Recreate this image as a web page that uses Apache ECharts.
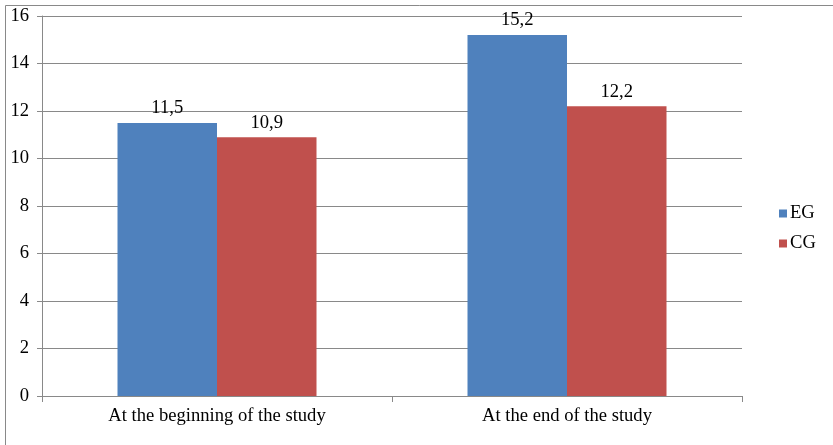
<!DOCTYPE html>
<html>
<head>
<meta charset="utf-8">
<script src="https://cdn.jsdelivr.net/npm/echarts@6/dist/echarts.min.js"></script>
<style>
  html, body { margin: 0; padding: 0; background: #fff; }
  #chart { width: 833px; height: 445px; }
</style>
</head>
<body>
<div id="chart"></div>
<script>
// Group scores at the start and end of the study
const categories = ['At the beginning of the study', 'At the end of the study'];
const seriesNames = ['EG', 'CG'];
const egValues = [11.5, 15.2];
const cgValues = [10.9, 12.2];
const yTicks = [0, 2, 4, 6, 8, 10, 12, 14, 16];

const font = "'Liberation Serif', 'Times New Roman', Times, serif";
const fontSize = 18.6;
const colors = ['#4F81BD', '#C0504D'];
const fmt = v => String(v).replace('.', ',');

const chart = echarts.init(document.getElementById('chart'));

function barSeries(name, data, color) {
  return {
    name: name,
    type: 'bar',
    data: data,
    barWidth: 99.5,
    barGap: '0%',
    itemStyle: { color: color },
    label: {
      show: true,
      position: 'top',
      distance: 5,
      color: '#000',
      fontFamily: font,
      fontSize: fontSize,
      formatter: p => fmt(p.value)
    }
  };
}

chart.setOption({
  animation: false,
  backgroundColor: '#fff',
  grid: { left: 42, right: 91, top: 16, bottom: 49, containLabel: false },
  legend: {
    orient: 'vertical',
    left: 774,
    top: 199,
    itemWidth: 8,
    itemHeight: 8,
    itemGap: 11,
    icon: 'rect',
    data: seriesNames,
    textStyle: { fontFamily: font, fontSize: fontSize, color: '#000', padding: [0, 0, 0, -2] }
  },
  xAxis: {
    type: 'category',
    data: categories,
    axisLine: { lineStyle: { color: '#898989', width: 1 } },
    axisTick: { show: true, length: 6, lineStyle: { color: '#898989' } },
    axisLabel: { fontFamily: font, fontSize: fontSize, color: '#000', margin: 11 }
  },
  yAxis: {
    type: 'value',
    min: yTicks[0],
    max: yTicks[yTicks.length - 1],
    interval: 2,
    axisLine: { show: true, lineStyle: { color: '#898989', width: 1 } },
    axisTick: { show: true, length: 5, lineStyle: { color: '#898989' } },
    axisLabel: { fontFamily: font, fontSize: fontSize, color: '#000', margin: 13 },
    splitLine: { lineStyle: { color: '#898989', width: 1 } }
  },
  graphic: [
    {
      type: 'polyline',
      shape: { points: [[5.5, 450], [5.5, 5.5], [840, 5.5]] },
      style: { stroke: '#898989', lineWidth: 1, fill: null },
      silent: true
    }
  ],
  series: [
    barSeries(seriesNames[0], egValues, colors[0]),
    barSeries(seriesNames[1], cgValues, colors[1])
  ]
});
</script>
</body>
</html>
